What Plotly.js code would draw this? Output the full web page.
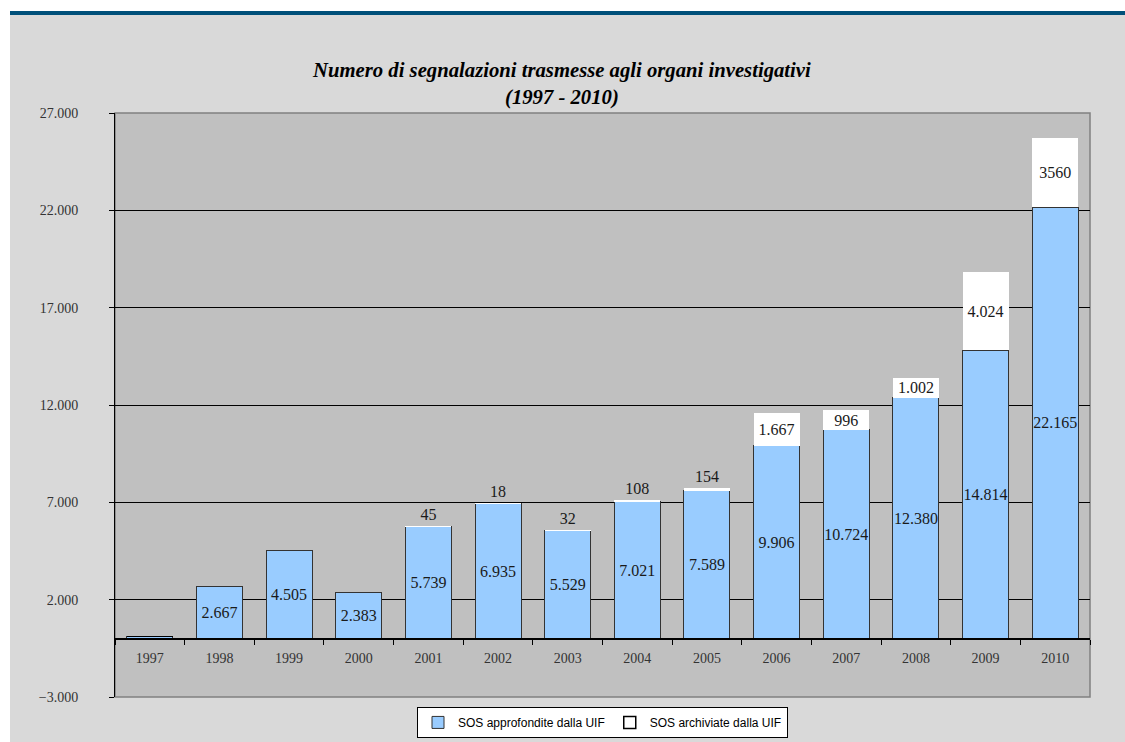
<!DOCTYPE html>
<html>
<head>
<meta charset="utf-8">
<script src="https://cdn.plot.ly/plotly-3.0.1.min.js"></script>
<style>
  body { margin: 0; background: #ffffff; }
  #wrap {
    position: absolute; left: 10px; top: 11px;
    width: 1115px; height: 727px;
    border-top: 4px solid #00507a;
    background: #d9d9d9;
  }
  #chartDiv { width: 1115px; height: 727px; }
</style>
</head>
<body>
<div id="wrap"><div id="chartDiv"></div></div>
<script>
// anni e valori
var anni = ['1997','1998','1999','2000','2001','2002','2003','2004','2005','2006','2007','2008','2009','2010'];
var approfondite = [100, 2667, 4505, 2383, 5739, 6935, 5529, 7021, 7589, 9906, 10724, 12380, 14814, 22165];
var archiviate = [0, 0, 0, 0, 45, 18, 32, 108, 154, 1667, 996, 1002, 4024, 3560];
// etichette come scritte sul grafico
var etichetteApprof = ['', '2.667', '4.505', '2.383', '5.739', '6.935', '5.529', '7.021', '7.589', '9.906', '10.724', '12.380', '14.814', '22.165'];
var etichetteArch = ['', '', '', '', '45', '18', '32', '108', '154', '1.667', '996', '1.002', '4.024', '3560'];
var posArch = ['none','none','none','none','outside','outside','outside','outside','outside','inside','inside','inside','inside','inside'];

var serif = 'Liberation Serif, Times New Roman, serif';

// bordo nero solo sul primo punto (vuoto) cosi' compare nel simbolo della legenda
var bordoArch = archiviate.map(function(v, i) { return i === 0 ? 1.5 : 0; });

var trace1 = {
  type: 'bar',
  name: 'SOS approfondite dalla UIF',
  x: anni,
  y: approfondite,
  text: etichetteApprof,
  textposition: 'inside',
  insidetextanchor: 'middle',
  textangle: 0,
  constraintext: 'none',
  textfont: {family: serif, size: 16, color: '#1a1a1a'},
  marker: {color: '#99ccff', line: {color: '#333333', width: 1}},
  hoverinfo: 'x+y'
};
var trace2 = {
  type: 'bar',
  name: 'SOS archiviate dalla UIF',
  x: anni,
  y: archiviate,
  text: etichetteArch,
  textposition: posArch,
  insidetextanchor: 'middle',
  textangle: 0,
  constraintext: 'none',
  cliponaxis: false,
  textfont: {family: serif, size: 16, color: '#1a1a1a'},
  marker: {color: '#ffffff', line: {color: '#000000', width: bordoArch}},
  hoverinfo: 'x+y'
};
var data = [trace1, trace2];

var layout = {
  title: {
    text: 'Numero di segnalazioni trasmesse agli organi investigativi<br>(1997 - 2010)',
    font: {family: serif, size: 20.7, color: '#000000', weight: 'bold', style: 'italic'},
    x: 0.495, xref: 'container', xanchor: 'center',
    y: 0.915, yref: 'container', yanchor: 'middle'
  },
  barmode: 'stack',
  bargap: 0.34,
  xaxis: {
    type: 'category',
    anchor: 'free',
    position: 0.1,   // dove si trova lo zero sull'asse y
    showline: true,
    linecolor: '#000000',
    linewidth: 2,
    ticks: 'outside',
    tickson: 'boundaries',
    ticklen: 5,
    tickcolor: '#000000',
    ticklabelstandoff: 7,
    tickfont: {family: serif, size: 14, color: '#333333'},
    showgrid: false,
    fixedrange: true
  },
  yaxis: {
    range: [-3000, 27000],
    tick0: -3000,
    dtick: 5000,
    tickformat: ',d',
    showline: true,
    linecolor: '#000000',
    linewidth: 1,
    ticks: 'outside',
    ticklen: 5,
    tickcolor: '#000000',
    ticklabelstandoff: 28,
    tickfont: {family: serif, size: 14, color: '#333333'},
    showgrid: true,
    gridcolor: '#000000',
    gridwidth: 1,
    zeroline: false,
    fixedrange: true
  },
  separators: ',.',
  shapes: [{
    type: 'rect', xref: 'paper', yref: 'paper',
    x0: 0, x1: 1, y0: 0, y1: 1,
    line: {color: '#808080', width: 1.5},
    layer: 'below'
  }],
  legend: {
    orientation: 'h',
    x: 0.5, xanchor: 'center',
    y: -0.017, yanchor: 'top',
    bgcolor: '#ffffff',
    bordercolor: '#000000',
    borderwidth: 1,
    itemwidth: 30,
    font: {family: 'Liberation Sans, Arial, sans-serif', size: 12, color: '#000000'},
    traceorder: 'normal'
  },
  margin: {l: 105, r: 35, t: 98, b: 45, autoexpand: false},
  width: 1115,
  height: 727,
  paper_bgcolor: '#d9d9d9',
  plot_bgcolor: '#c0c0c0',
  showlegend: true
};

Plotly.newPlot('chartDiv', data, layout, {displayModeBar: false});
</script>
</body>
</html>
